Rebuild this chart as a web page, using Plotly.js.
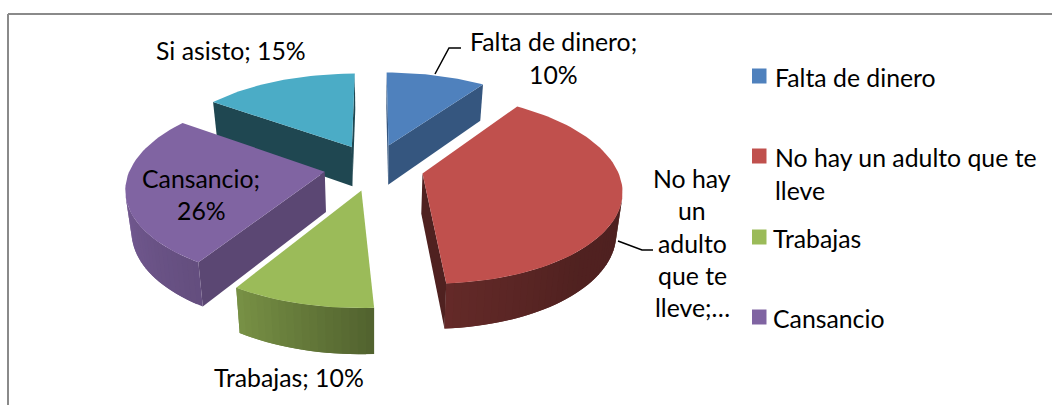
<!DOCTYPE html>
<html><head><meta charset="utf-8">
<script src="https://cdn.plot.ly/plotly-3.0.1.min.js"></script>
<style>html,body{margin:0;padding:0;background:#fff;overflow:hidden}#c{width:1052px;height:405px}</style>
</head><body><div id="c"></div>
<script>
// ---- data ----
const categories = ["Falta de dinero","No hay un adulto que te lleve","Trabajas","Cansancio","Si asisto"];
const values = [9.8, 39.2, 9.8, 26, 15.2];
const legendCategories = ["Falta de dinero","No hay un adulto que te lleve","Trabajas","Cansancio"];
const sliceColors = ["#4f81bd","#c0504d","#9bbb59","#8064a2","#4bacc6"];
const cutFaceShade = [0.67,0.41,0.55,0.71,0.41];
const wallAngles = [0,90,140,176,212,270,360];
const wallShades = [0.40,0.40,0.42,0.52,0.78,0.93,0.93];
const drawOrder = [0,4,3,1,2];

// ---- pie projection settings ----
const cx=374, cy=167, R=194, S=90.7, k=0.157, explode=0.257, depth=40, shrink=0.025;
const FONT="Lato, Carlito, sans-serif", FS=24.8;

function shadeColor(hex,f){
  const n=parseInt(hex.slice(1),16);
  const c=[n>>16&255,n>>8&255,n&255].map(v=>Math.round(v*f));
  return `rgb(${c[0]},${c[1]},${c[2]})`;
}
function wallShade(t){
  t=((t%360)+360)%360;
  for(let i=1;i<wallAngles.length;i++){
    if(t<=wallAngles[i]){
      const u=(t-wallAngles[i-1])/(wallAngles[i]-wallAngles[i-1]);
      return wallShades[i-1]+u*(wallShades[i]-wallShades[i-1]);
    }
  }
  return wallShades[wallShades.length-1];
}
function project(x,y){
  const w=1+k*y;
  const X=cx+R*x/w, Y=cy-S*y/w;
  return {X,Y,bX:cx+(X-cx)*(1-shrink),bY:cy+(Y-cy)*(1-shrink)+depth/w};
}
const total=values.reduce((a,b)=>a+b,0);
let acc=0;
const slices=values.map((v,i)=>{
  const a0=acc/total*360; acc+=v; const a1=acc/total*360;
  return {i,a0,a1};
});
const traces=[];
function poly(xs,ys,color,lw){
  traces.push({type:"scatter",mode:"lines",x:xs,y:ys,fill:"toself",fillcolor:color,
    line:{color:color,width:lw},hoverinfo:"skip",showlegend:false});
}
drawOrder.forEach(idx=>{
  const s=slices[idx];
  const mid=(s.a0+s.a1)/2*Math.PI/180;
  const ex=explode*Math.sin(mid), ey=explode*Math.cos(mid);
  const pts=[{p:project(ex,ey),t:null}];
  const n=Math.max(2,Math.ceil((s.a1-s.a0)/2));
  for(let j=0;j<=n;j++){
    const t=s.a0+(s.a1-s.a0)*j/n, r=t*Math.PI/180;
    pts.push({p:project(ex+Math.sin(r),ey+Math.cos(r)),t});
  }
  const m=pts.length;
  for(let j=0;j<m;j++){
    const a=pts[j].p,b=pts[(j+1)%m].p;
    let qx=[a.X,b.X,b.bX,a.bX], qy=[a.Y,b.Y,b.bY,a.bY];
    let area=0;
    for(let q=0;q<4;q++){const r=(q+1)%4; area+=qx[q]*qy[r]-qx[r]*qy[q];}
    if(area>=0) continue;
    const isArc=pts[j].t!==null && pts[(j+1)%m].t!==null;
    const f=isArc?wallShade((pts[j].t+pts[(j+1)%m].t)/2):cutFaceShade[idx];
    // arc bands overlap the next band so no seams show between shades
    if(isArc && j+2<m){
      const c=pts[j+2].p;
      qx=[a.X,b.X,c.X,c.bX,b.bX,a.bX]; qy=[a.Y,b.Y,c.Y,c.bY,b.bY,a.bY];
    }
    poly(qx.concat(qx[0]),qy.concat(qy[0]),shadeColor(sliceColors[idx],f),0);
  }
  poly(pts.map(o=>o.p.X).concat(pts[0].p.X),pts.map(o=>o.p.Y).concat(pts[0].p.Y),sliceColors[idx],0);
});

// ---- texts ----
const labelLines=[
  ["Si asisto; 15%",231,50],
  ["Falta de dinero;",553,41],["10%",553,74],
  ["Cansancio;",201,178],["26%",201,210],
  ["Trabajas; 10%",289,377],
  ["No hay",692,178],["un",692,210],["adulto",692,243],["que te",692,275],["lleve;…",692,307]
];
const annotations=labelLines.map(l=>({xref:"x",yref:"y",x:l[1],y:l[2],text:l[0],showarrow:false,
  xanchor:"center",yanchor:"middle",font:{family:FONT,size:FS,color:"#000"}}));
const legendRows=[[legendCategories[0],77,773],["No hay un adulto que te",157,773],["lleve",190,773],[legendCategories[2],238,771],[legendCategories[3],318,771]];
legendRows.forEach(r=>annotations.push({xref:"x",yref:"y",x:r[2],y:r[1],text:r[0],showarrow:false,
  xanchor:"left",yanchor:"middle",font:{family:FONT,size:FS,color:"#000"}}));

const swatchY=[76,156,237,317];
const shapes=[
  {type:"line",xref:"x",yref:"y",x0:8,y0:14,x1:1052,y1:14,line:{color:"#8a8a8a",width:2}},
  {type:"line",xref:"x",yref:"y",x0:8,y0:14,x1:8,y1:405,line:{color:"#8a8a8a",width:2}},
  {type:"path",xref:"x",yref:"y",path:"M435,74 L449,48 L461,48",line:{color:"#000",width:1.5}},
  {type:"path",xref:"x",yref:"y",path:"M618,241 L642,250 L653,250",line:{color:"#000",width:1.5}}
];
swatchY.forEach((y,i)=>shapes.push({type:"rect",xref:"x",yref:"y",x0:752,x1:766.5,y0:y-7.5,y1:y+7.5,
  fillcolor:sliceColors[i],line:{width:0}}));

Plotly.newPlot("c",traces,{
  width:1052,height:405,margin:{l:0,r:0,t:0,b:0},
  paper_bgcolor:"#fff",plot_bgcolor:"#fff",showlegend:false,
  xaxis:{range:[0,1052],visible:false,fixedrange:true},
  yaxis:{range:[405,0],visible:false,fixedrange:true},
  annotations,shapes
},{displayModeBar:false,staticPlot:true});
</script></body></html>
